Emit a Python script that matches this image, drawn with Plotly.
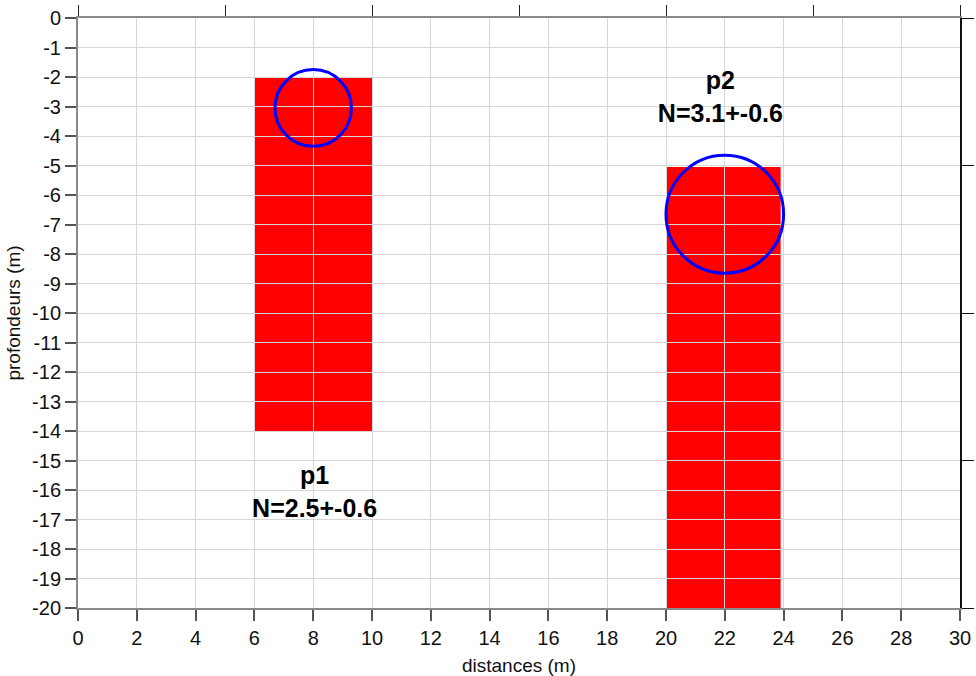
import plotly.graph_objects as go

# Data
zone_names = ["p1", "p2"]
zone_x0 = [6, 20]
zone_x1 = [10, 23.9]
zone_top = [-2, -5.05]
zone_bottom = [-14, -20]
circle_cx = [8, 22]
circle_cy = [-3.05, -6.65]
circle_r = [1.3, 2.0]
labels = ["<b>p1<br>N=2.5+-0.6</b>", "<b>p2<br>N=3.1+-0.6</b>"]
label_x = [8.05, 21.85]
label_y = [-16.15, -2.75]

x_tickvals = [0, 2, 4, 6, 8, 10, 12, 14, 16, 18, 20, 22, 24, 26, 28, 30]
x_ticktext = ["0", "2", "4", "6", "8", "10", "12", "14", "16", "18", "20", "22", "24", "26", "28", "30"]
y_tickvals = [0, -1, -2, -3, -4, -5, -6, -7, -8, -9, -10, -11, -12, -13, -14, -15, -16, -17, -18, -19, -20]
y_ticktext = ["0", "-1", "-2", "-3", "-4", "-5", "-6", "-7", "-8", "-9", "-10", "-11", "-12", "-13",
              "-14", "-15", "-16", "-17", "-18", "-19", "-20"]
top_tickvals = [0, 5, 10, 15, 20, 25, 30]
right_tickvals = [0, -5, -10, -15, -20]

FONT = "Arial, Liberation Sans, sans-serif"

fig = go.Figure()

shapes = []
for i in range(len(zone_names)):
    shapes.append(dict(type="rect", xref="x", yref="y", layer="below",
                       x0=zone_x0[i], x1=zone_x1[i], y0=zone_bottom[i], y1=zone_top[i],
                       fillcolor="#ff0000", line=dict(width=0)))
for i in range(len(circle_cx)):
    shapes.append(dict(type="circle", xref="x", yref="y", layer="above",
                       x0=circle_cx[i] - circle_r[i], x1=circle_cx[i] + circle_r[i],
                       y0=circle_cy[i] - circle_r[i], y1=circle_cy[i] + circle_r[i],
                       line=dict(color="#0000ff", width=3)))

fig.add_trace(go.Scatter(x=label_x, y=label_y, mode="text", text=labels,
                         textfont=dict(family=FONT, size=25, color="#000000"),
                         hoverinfo="skip", showlegend=False))
fig.add_trace(go.Scatter(x=[0, 30], y=[0, -20], xaxis="x2", yaxis="y2", mode="markers",
                         marker=dict(opacity=0), hoverinfo="skip", showlegend=False))

fig.update_layout(
    width=976, height=676,
    margin=dict(l=78, r=16, t=18, b=68, autoexpand=False),
    paper_bgcolor="white", plot_bgcolor="white",
    shapes=shapes,
    showlegend=False,
    font=dict(family=FONT, color="#000000"),
    xaxis=dict(range=[0, 30], tickmode="array", tickvals=x_tickvals, ticktext=x_ticktext,
               showgrid=True, gridcolor="#d6d6d6", gridwidth=1, automargin=False,
               zeroline=False, showline=True, linecolor="#8a8a8a", linewidth=2,
               ticks="outside", ticklen=11, tickcolor="#555555", tickwidth=1.5,
               tickfont=dict(size=20, family=FONT, color="#111111"),
               title=dict(text="distances (m)", font=dict(size=19, family=FONT, color="#111111"),
                          standoff=18)),
    yaxis=dict(range=[-20, 0], tickmode="array", tickvals=y_tickvals, ticktext=y_ticktext,
               showgrid=True, gridcolor="#d6d6d6", gridwidth=1, automargin=False,
               zeroline=False, showline=True, linecolor="#8a8a8a", linewidth=2,
               ticks="outside", ticklen=11, tickcolor="#555555", tickwidth=1.5,
               tickfont=dict(size=20, family=FONT, color="#111111"),
               title=dict(text="profondeurs (m)", font=dict(size=19, family=FONT, color="#111111"),
                          standoff=6)),
    xaxis2=dict(range=[0, 30], tickmode="array", tickvals=top_tickvals, overlaying="x", side="top",
                showgrid=False, automargin=False,
                zeroline=False, showline=True, linecolor="#8a8a8a", linewidth=2,
                ticks="outside", ticklen=11, tickcolor="#222222", tickwidth=1.2,
                showticklabels=False),
    yaxis2=dict(range=[-20, 0], tickmode="array", tickvals=right_tickvals, overlaying="y", side="right",
                showgrid=False, automargin=False,
                zeroline=False, showline=True, linecolor="#111111", linewidth=1.5,
                ticks="outside", ticklen=12, tickcolor="#111111", tickwidth=1.2,
                showticklabels=False),
)

fig.write_html("out.html")
